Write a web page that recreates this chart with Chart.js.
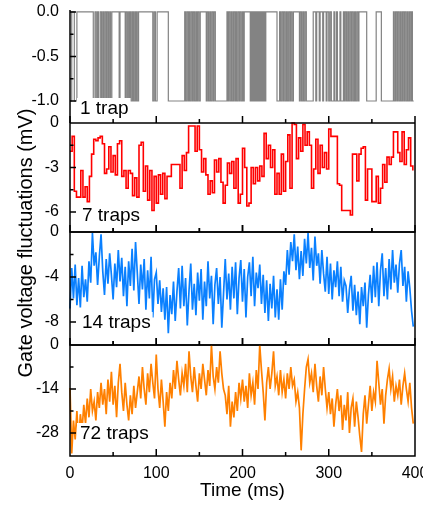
<!DOCTYPE html>
<html>
<head>
<meta charset="utf-8">
<script src="https://cdn.jsdelivr.net/npm/chart.js@4.4.1/dist/chart.umd.min.js"></script>
<style>
    html, body { margin: 0; padding: 0; background: #fff; }
    #wrap { position: relative; width: 423px; height: 512px; }
    #wrap canvas { position: absolute; left: 0; top: 0; }
</style>
</head>
<body>
<div id="wrap">
    <canvas id="p1" width="423" height="512"></canvas>
    <canvas id="p2" width="423" height="512"></canvas>
    <canvas id="p3" width="423" height="512"></canvas>
    <canvas id="p4" width="423" height="512"></canvas>
</div>
<script>
// Time axis (ms)
const xMajorTicks = [0, 100, 200, 300, 400];
const xMinorTicks = [50, 150, 250, 350];

// 1 trap: telegraph signal, [time ms, level mV]
const trapSteps = [
    [0,-1],[2,0],[5,-1],[8,0],
    [27,-1],[29,0],[30.5,-1],[32,0],[33,-1],[35,0],[36.5,-1],[38,0],[39,-1],[40.5,0],[42,-1],[43,0],[44.5,-1],[46,0],[47,-1],[48.5,0],
    [57,-1],[58,0],
    [64,-1],[65,0],[66.5,-1],[68,0],[69,-1],[70,0],[71,-1],[72.5,0],[73.5,-1],[75,0],[76,-1],[77,0],[78,-1],[79.5,0],
    [96,-1],[97.5,0],[99,-1],[101,0],
    [114,-1],
    [133,0],[134,-1],[135.5,0],[137,-1],[138,0],[139,-1],[140.5,0],[142,-1],[143,0],[144.5,-1],[146,0],[147,-1],[148,0],[149.5,-1],[151,0],
    [158,-1],[159,0],[160.5,-1],[162,0],[163,-1],[164.5,0],[166,-1],[167,0],[168.5,-1],
    [182,0],[183,-1],[184,0],[185.5,-1],[187,0],[188,-1],[189.5,0],[191,-1],[192,0],[193,-1],[194.5,0],[196,-1],[197,0],[198.5,-1],[200,0],[201,-1],[202,0],
    [209,-1],[209.8,0],[210.6,-1],[211.4,0],[212.2,-1],[213,0],[214,-1],[214.8,0],[215.6,-1],[216.5,0],[217.3,-1],[218,0],[219,-1],[219.8,0],[220.6,-1],[221.5,0],[222.3,-1],[223,0],[224,-1],[225,0],[226,-1],[227,0],
    [240,-1],[243,0],[244,-1],[245.5,0],[247,-1],[248,0],[249.5,-1],[251,0],[252,-1],[253.5,0],[255,-1],[256,0],[257.5,-1],[259,0],
    [266,-1],[267,0],[268.5,-1],[270,0],[271,-1],[272.5,0],[274,-1],
    [282,0],[285,-1],[286,0],[289,-1],[290,0],[293,-1],[294,0],[297,-1],[298,0],[300,-1],[301.5,0],[303,-1],[306,0],[307,-1],[309,0],[310,-1],[313,0],[314,-1],[317,0],[318,-1],[319,0],[320.5,-1],[322,0],[323,-1],[324.5,0],[326,-1],[327,0],[328.5,-1],[330,0],[331,-1],[332.5,0],[334,-1],[335,0],
    [344,-1],[355,0],[361,-1],
    [375,0],[376,-1],[377.5,0],[379,-1],[380,0],[381.5,-1],[383,0],[384,-1],[385.5,0],[387,-1],[388,0],[389.5,-1],[391,0],[392,-1],[393.5,0],[395,-1],[396,0],[397,-1],[398.5,-1]
];

// 7 traps, sampled every 2.5 ms
const sevenStep = 2.5;
const sevenTraps = [
    -1.9,-0.9,-4.6,-5.0, -5.0,-3.2,-5.0,-4.3, -5.3,-3.6,-2.1,-1.1, -1.2,-1.0,-0.9,-1.4,
    -3.4,-3.1,-1.6,-3.3, -2.2,-3.5,-1.4,-1.2, -3.6,-3.2,-4.4,-3.2, -3.4,-4.9,-3.7,-5.0,
    -1.5,-1.3,-4.6,-2.9, -5.2,-3.2,-5.9,-3.6, -5.4,-3.5,-4.8,-3.4, -5.1,-3.6,-3.6,-2.8,
    -2.8,-2.8,-2.8,-4.4, -2.2,-3.2,-2.0,-0.2, -0.2,-0.2,-1.9,-0.2, -1.8,-3.3,-2.4,-3.5,
    -4.8,-3.9,-4.7,-2.5, -3.3,-2.4,-4.0,-5.4, -4.2,-2.7,-3.4,-2.6, -4.4,-2.4,-5.4,-4.8,
    -1.7,-3.0,-5.6,-5.4, -3.0,-4.1,-3.0,-3.9, -2.9,-3.6,-0.7,-2.4, -1.5,-3.0,-1.8,-4.8,
    -3.4,-4.8,-2.1,-4.6, -2.6,-0.8,-4.4,0.0, -0.1,-2.4,-1.0,-1.9, -0.1,-1.5,-0.6,-1.5,
    -4.4,-3.1,-1.1,-3.4, -1.5,-3.0,-2.0,-3.1, -0.4,-0.9,-0.9,-0.9, -4.1,-4.2,-5.9,-5.9,
    -5.9,-5.9,-6.2,-2.1, -2.1,-3.9,-2.1,-1.7, -1.6,-5.2,-3.1,-3.1, -5.3,-5.3,-3.6,-5.4,
    -4.4,-2.8,-4.0,-2.3, -2.8,-2.3,-0.6,-0.6, -2.0,-2.6,-0.6,-2.8, -1.8,-1.0,-2.9,-3.2
];

// 14 traps, sampled every 2 ms
const fourteenStep = 2;
const fourteenTraps = [
    -6.8,-3.2,-5.9,-2.9,-6.5, -4.1,-6.7,-3.0,-5.8,-4.2, -6.2,-2.6,-4.5,-0.1,-3.0, -1.8,-4.7,-2.2,-0.2,-3.5,
    -5.6,-2.4,-4.6,-1.9,-3.8, -6.0,-2.8,-4.9,-1.6,-4.4, -2.3,-5.7,-3.1,-6.6,-2.6, -4.8,-1.5,-5.2,-0.9,-3.6,
    -6.4,-2.9,-5.1,-2.4,-6.9, -3.4,-5.9,-2.2,-7.6,-4.2, -3.6,-6.4,-4.3,-7.1,-5.0, -7.8,-4.9,-9.0,-5.6,-7.3,
    -4.4,-7.9,-5.3,-3.2,-6.8, -3.0,-6.6,-4.1,-8.3,-5.2, -2.8,-6.9,-4.6,-7.4,-3.6, -6.1,-3.3,-7.8,-4.4,-6.6,
    -2.6,-5.9,-3.9,-8.2,-4.7, -3.2,-6.4,-4.0,-8.5,-5.5, -2.4,-6.0,-3.7,-6.9,-3.1, -5.9,-2.7,-7.3,-4.1,-2.5,
    -6.2,-3.3,-7.6,-4.0,-2.7, -5.7,-2.2,-6.6,-3.6,-5.0, -2.9,-6.4,-3.8,-7.2,-4.3, -7.9,-4.6,-6.8,-3.9,-7.6,
    -5.1,-7.8,-4.2,-6.9,-3.5, -4.7,-1.6,-3.8,-0.9,-2.6, -0.2,-3.4,-1.3,-4.2,-1.7, -3.9,-0.6,-2.8,-0.1,-3.2,
    -1.4,-4.3,-0.4,-3.0,-1.9, -4.6,-1.6,-3.7,-5.3,-2.2, -5.5,-2.8,-6.0,-3.4,-4.9, -2.6,-5.7,-3.1,-6.2,-4.3,
    -4.8,-7.2,-5.1,-3.9,-7.0, -4.7,-7.4,-5.3,-8.2,-4.9, -6.6,-4.5,-8.5,-5.6,-3.8, -6.3,-3.0,-5.8,-2.7,-6.6,
    -3.4,-1.9,-5.7,-3.2,-6.0, -2.4,-5.1,-1.6,-4.5,-2.9, -5.4,-2.8,-1.6,-4.8,-3.1, -6.2,-3.5,-5.0,-7.0,-8.4
];

// 72 traps, sampled every 2 ms
const seventyTwoStep = 2;
const seventyTwoTraps = [
    -13.7,-34.5,-24,-30,-21, -31,-22,-27,-19,-25, -17,-23,-14,-21,-18, -24,-15,-20,-12,-19,
    -14,-22,-11,-18,-8.5, -19,-13,-23,-12,-6, -15,-21,-12,-19,-24, -16,-22,-13,-20,-15,
    -10,-17,-7,-14,-19, -9,-15,-6,-12,-17, -3,-14,-20,-11,-18, -26,-15,-21,-12,-17,
    -8,-14,-5,-11,-16, -9,-13,-6,-15,-2, -10,-15,-7,-13,-18, -9,-14,-6,-11,-16,
    -8,-13,0,-10,-14, -7,-12,-2,-9,-14, -16,-22,-13,-26,-18, -23,-15,-21,-12,-17,
    -11,-18,-13,-20,-9, -16,-12,-19,-8,-14, 0,-8,-15,-24,-12, -7,-14,-9,-2,-13,
    -10,-16,-8,-15,-11, -17,-9,-14,-7,-13, -11,-18,-15,-20,-33.5, -22,-14,-7,-4.5,-12,
    -9,-15,-6,-13,-18, -10,-16,-7,-14,-20, -15,-22,-17,-26,-19, -14,-21,-16,-27,-19,
    -24,-15,-28,-20,-17, -26,-18,-23,-29,-34, -22,-16,-25,-19,-13, -21,-15,-18,-5,-12,
    -19,-14,-25,-16,-11, -7.5,-14,-10,-18,-13, -16,-11,-19,-13,-9, -14,-18,-12,-20,-25
];

// Y tick labels per panel
const trapTicks = [0, -0.5, -1];
const trapMinor = [-0.25, -0.75];
const sevenTicks = [0, -3, -6];
const sevenMinor = [-1.5, -4.5];
const fourteenTicks = [0, -4, -8];
const fourteenMinor = [-2, -6];
const seventyTwoTicks = [0, -14, -28];
const seventyTwoMinor = [-7, -21];

const FONT = '"Liberation Sans", Arial, sans-serif';
Chart.defaults.font.family = FONT;
Chart.defaults.color = '#000';

const sampled = (vals, step) => vals.map((v, i) => ({ x: i * step, y: v }));

const framePlugin = {
    id: 'frame',
    afterDraw(chart, args, opts) {
        const { ctx, chartArea: a, scales } = chart;
        const line = (x1, y1, x2, y2) => { ctx.moveTo(x1, y1); ctx.lineTo(x2, y2); };
        ctx.save();
        ctx.strokeStyle = '#000';
        ctx.lineWidth = 1.5;
        ctx.beginPath();
        if (opts.box) {
            ctx.rect(a.left, a.top, a.right - a.left, a.bottom - a.top);
            xMajorTicks.forEach(v => {
                const px = scales.x.getPixelForValue(v);
                line(px, a.top, px, a.top - 7);
                line(px, a.bottom, px, a.bottom - 7);
            });
            xMinorTicks.forEach(v => {
                const px = scales.x.getPixelForValue(v);
                line(px, a.top, px, a.top - 4);
                line(px, a.bottom, px, a.bottom - 4);
            });
        } else {
            line(a.left, a.top, a.left, a.bottom);
        }
        opts.major.forEach(v => {
            const py = scales.y.getPixelForValue(v);
            line(a.left, py, a.left + 6, py);
        });
        opts.minor.forEach(v => {
            const py = scales.y.getPixelForValue(v);
            line(a.left, py, a.left + 3.5, py);
        });
        ctx.stroke();

        ctx.font = '19px ' + FONT;
        const w = ctx.measureText(opts.label).width;
        ctx.fillStyle = '#fff';
        ctx.fillRect(opts.lx - 3, opts.ly - 16, w + 5, 21);
        ctx.fillStyle = '#000';
        ctx.textBaseline = 'alphabetic';
        ctx.fillText(opts.label, opts.lx, opts.ly);

        if (opts.ytitle) {
            ctx.save();
            ctx.translate(26, 243);
            ctx.rotate(-Math.PI / 2);
            ctx.font = '20px ' + FONT;
            ctx.textAlign = 'center';
            ctx.textBaseline = 'middle';
            ctx.fillText(opts.ytitle, 0, 0);
            ctx.restore();
        }
        ctx.restore();
    }
};

const panels = [
    { id: 'p1', top: 10, bottom: 123, min: -1.247, max: 0.022, ticks: trapTicks, minor: trapMinor, digits: 1,
      color: '#838383', width: 1.2, stepped: true, data: trapSteps.map(p => ({ x: p[0], y: p[1] })),
      label: '1 trap', lx: 80, ly: 114, box: false },
    { id: 'p2', top: 123, bottom: 232, min: -7.35, max: 0, ticks: sevenTicks, minor: sevenMinor, digits: 0,
      color: '#ff0000', width: 1.6, stepped: true, data: sampled(sevenTraps, sevenStep),
      label: '7 traps', lx: 82, ly: 221, box: true },
    { id: 'p3', top: 232, bottom: 345, min: -10.04, max: 0, ticks: fourteenTicks, minor: fourteenMinor, digits: 0,
      color: '#0a80ff', width: 1.7, stepped: false, data: sampled(fourteenTraps, fourteenStep),
      label: '14 traps', lx: 82, ly: 328, box: true },
    { id: 'p4', top: 345, bottom: 456, min: -35.3, max: 0, ticks: seventyTwoTicks, minor: seventyTwoMinor, digits: 0,
      color: '#ff8000', width: 1.7, stepped: false, data: sampled(seventyTwoTraps, seventyTwoStep),
      label: '72 traps', lx: 80, ly: 439, box: true, last: true,
      ytitle: 'Gate voltage fluctuations (mV)' }
];

panels.forEach(p => {
    new Chart(document.getElementById(p.id), {
        type: 'line',
        data: {
            datasets: [{
                data: p.data,
                borderColor: p.color,
                borderWidth: p.width,
                pointRadius: 0,
                stepped: p.stepped,
                tension: 0,
                fill: false,
                clip: 1
            }]
        },
        options: {
            responsive: false,
            animation: false,
            events: [],
            layout: { padding: { top: p.top, bottom: p.last ? 0 : 512 - p.bottom, left: 0, right: 8 } },
            plugins: {
                legend: { display: false },
                tooltip: { enabled: false },
                frame: { box: p.box, major: p.ticks, minor: p.minor, label: p.label, lx: p.lx, ly: p.ly, ytitle: p.ytitle }
            },
            scales: {
                x: {
                    type: 'linear',
                    min: 0,
                    max: 400,
                    display: !!p.last,
                    afterBuildTicks: s => { s.ticks = xMajorTicks.map(v => ({ value: v })); },
                    ticks: { padding: 8, font: { size: 16 }, color: '#000', maxRotation: 0 },
                    grid: { display: false, drawTicks: false },
                    border: { display: false },
                    title: { display: true, text: 'Time (ms)', font: { size: 19 }, color: '#000', padding: { top: 0, bottom: 10 } },
                    afterFit: s => {
                        if (p.last) s.height = 56;
                        s.paddingLeft = 0;
                        s.paddingRight = 0;
                    }
                },
                y: {
                    type: 'linear',
                    min: p.min,
                    max: p.max,
                    afterBuildTicks: s => { s.ticks = p.ticks.map(v => ({ value: v })); },
                    ticks: { padding: 11, font: { size: 16 }, color: '#000', callback: v => v.toFixed(p.digits) },
                    grid: { display: false, drawTicks: false },
                    border: { display: false },
                    afterFit: s => { s.width = 70; s.paddingTop = 0; s.paddingBottom = 0; }
                }
            }
        },
        plugins: [framePlugin]
    });
});
</script>
</body>
</html>
